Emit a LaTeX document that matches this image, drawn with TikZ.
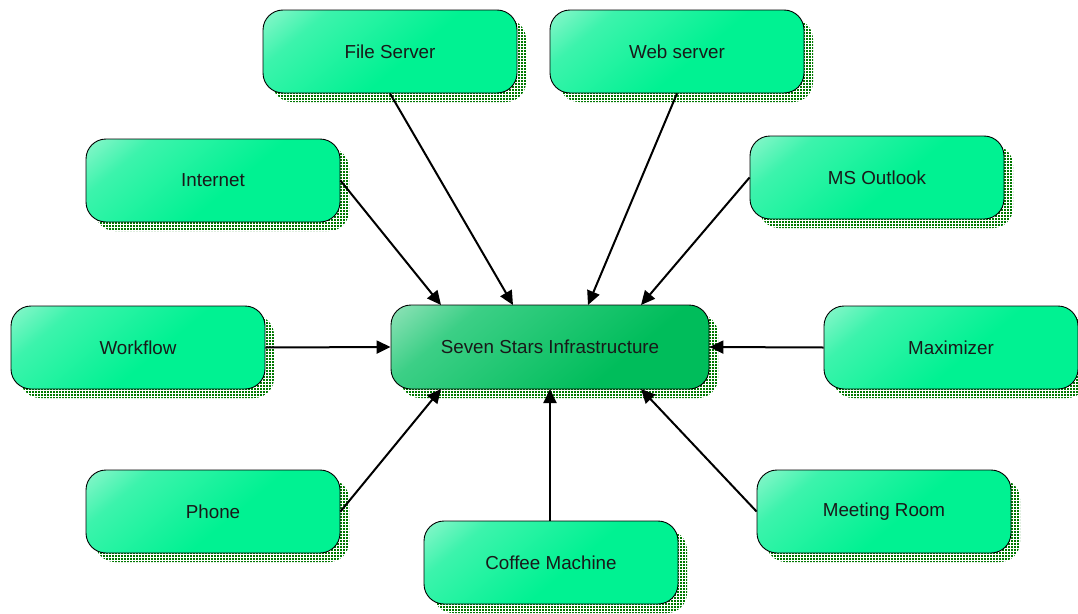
\documentclass[tikz,border=0pt]{standalone}
\usepackage{fontspec}
\setmainfont{Liberation Sans}
\usetikzlibrary{arrows.meta,shadows,patterns.meta}
\definecolor{gA}{HTML}{00F292}
\definecolor{gM}{HTML}{3CF3AC}
\definecolor{gW}{HTML}{E4F9EE}
\definecolor{cA}{HTML}{00BD5B}
\definecolor{cM}{HTML}{3CCF86}
\definecolor{cW}{HTML}{E2F5EA}
\definecolor{shgreen}{HTML}{007800}
\pgfdeclareverticalshading{boxshade}{100bp}{color(0bp)=(gA); color(45bp)=(gA); color(72bp)=(gM); color(100bp)=(gW)}
\pgfdeclareverticalshading{centershade}{100bp}{color(0bp)=(cA); color(35bp)=(cA); color(70bp)=(cM); color(100bp)=(cW)}
\tikzdeclarepattern{
  name=shdots,
  type=uncolored,
  bounding box={(0pt,0pt) and (3.4pt,3.4pt)},
  tile size={(3.4pt,3.4pt)},
  code={\fill (0pt,0pt) rectangle (2.2pt,2.2pt);}
}
\tikzset{
  box/.style={draw=black, line width=0.9pt, rounded corners=20pt,
    minimum width=254pt, minimum height=83pt,
    shading=boxshade, shading angle=40,
    font=\fontsize{18.8}{22}\selectfont, text=black!90,
    general shadow={shadow xshift=9pt, shadow yshift=-9pt,
      pattern={shdots}, pattern color=shgreen}},
  centerbox/.style={box, minimum width=318pt, minimum height=84pt, shading=centershade},
  conn/.style={line width=2pt, -{Triangle[length=14pt,width=13pt]}}
}
\begin{document}
\begin{tikzpicture}[x=1pt,y=-1pt]
\useasboundingbox (0,0) rectangle (1078,613);
\node[box] (fs) at (390,51.5) {File Server};
\node[box] (ws) at (677,51.5) {Web server};
\node[box] (in) at (213,180.5) {Internet};
\node[box] (ms) at (877,177.5) {MS Outlook};
\node[box] (wf) at (138,347.5) {Workflow};
\node[centerbox] (c) at (550,347) {Seven Stars Infrastructure};
\node[box] (mx) at (951,347.5) {Maximizer};
\node[box] (ph) at (213,511.5) {Phone};
\node[box] (mr) at (884,511.5) {Meeting Room};
\node[box] (cm) at (551,562.5) {Coffee Machine};
\coordinate (t1) at (441,305);
\coordinate (t2) at (513,305);
\coordinate (t3) at (588,305);
\coordinate (t4) at (641,305);
\coordinate (b1) at (441,389);
\coordinate (b2) at (550,389);
\coordinate (b3) at (641,389);
\draw[conn] (fs.south) -- (t2);
\draw[conn] (ws.south) -- (t3);
\draw[conn] (in.east) -- (t1);
\draw[conn] (ms.west) -- (t4);
\draw[conn] (wf.east) -- (c.west);
\draw[conn] (mx.west) -- (c.east);
\draw[conn] (ph.east) -- (b1);
\draw[conn] (mr.west) -- (b3);
\draw[conn] (cm.north -| b2) -- (b2);
\end{tikzpicture}
\end{document}
